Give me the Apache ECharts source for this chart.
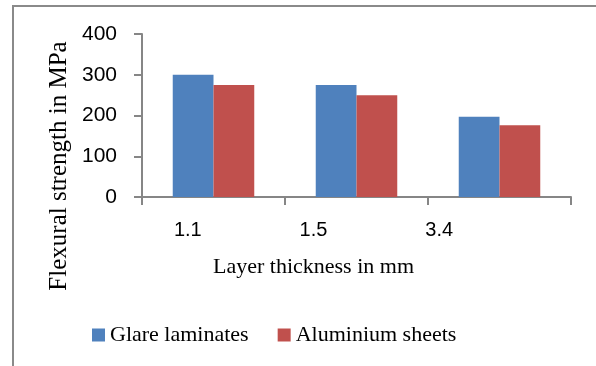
<!DOCTYPE html>
<html>
<head>
<meta charset="utf-8">
<script src="https://cdn.jsdelivr.net/npm/echarts@6/dist/echarts.min.js"></script>
<style>
  html, body { margin: 0; padding: 0; background: #fff; }
  #chart { width: 596px; height: 366px; }
</style>
</head>
<body>
<div id="chart"></div>
<script>
// Layer thickness categories (mm)
const thickness = ['1.1', '1.5', '3.4'];
// Flexural strength values (MPa)
const glareLaminates = [300, 275, 197];
const aluminiumSheets = [275, 250, 176];
// Y axis range
const yMin = 0, yMax = 400, yStep = 100;

const serif = '"Liberation Serif", "Times New Roman", serif';
const sans = '"Liberation Sans", Arial, sans-serif';
const axisGrey = '#868686';

const chart = echarts.init(document.getElementById('chart'), null, { renderer: 'canvas' });

chart.setOption({
  animation: false,
  backgroundColor: '#fff',
  graphic: [{
    type: 'rect',
    shape: { x: 13, y: 6, width: 600, height: 380 },
    style: { fill: 'none', stroke: '#8a8a8a', lineWidth: 2 },
    silent: true
  }],
  legend: {
    left: 92,
    top: 324,
    padding: 0,
    itemWidth: 13,
    itemHeight: 13,
    itemGap: 29,
    icon: 'rect',
    textStyle: { fontFamily: serif, fontSize: 22, color: '#000' },
    data: ['Glare laminates', 'Aluminium sheets']
  },
  grid: [
    { left: 142, right: 25, top: 34, bottom: 169, outerBoundsMode: 'none', containLabel: false },
    // caption grid: category captions, x title and y title
    { left: 125, width: 377, top: 135, bottom: 169, outerBoundsMode: 'none', containLabel: false }
  ],
  xAxis: [{
    type: 'category',
    gridIndex: 0,
    data: thickness,
    axisLine: { lineStyle: { color: axisGrey, width: 2 } },
    axisTick: { show: true, length: 8, lineStyle: { color: axisGrey, width: 2 } },
    axisLabel: { show: false }
  }, {
    type: 'category',
    gridIndex: 1,
    data: thickness,
    axisLine: { show: false },
    axisTick: { show: false },
    axisLabel: { margin: 23, fontFamily: sans, fontSize: 20, color: '#000' },
    name: 'Layer thickness in mm',
    nameLocation: 'middle',
    nameGap: 59,
    nameTextStyle: { fontFamily: serif, fontSize: 22, color: '#000' }
  }],
  yAxis: [{
    type: 'value',
    gridIndex: 0,
    min: yMin,
    max: yMax,
    interval: yStep,
    axisLine: { show: true, lineStyle: { color: axisGrey, width: 2 } },
    axisTick: { show: true, length: 8, lineStyle: { color: axisGrey, width: 2 } },
    splitLine: { show: false },
    axisLabel: { margin: 25, fontFamily: sans, fontSize: 21, color: '#000' }
  }, {
    type: 'value',
    gridIndex: 1,
    min: yMin,
    max: yMax,
    axisLine: { show: false },
    axisTick: { show: false },
    axisLabel: { show: false },
    splitLine: { show: false },
    name: 'Flexural strength in MPa',
    nameLocation: 'middle',
    nameGap: 53,
    nameTextStyle: { fontFamily: serif, fontSize: 25, color: '#000' }
  }],
  series: [{
    name: 'Glare laminates',
    type: 'bar',
    xAxisIndex: 0,
    yAxisIndex: 0,
    data: glareLaminates,
    barGap: '0%',
    barCategoryGap: '43%',
    itemStyle: { color: '#4F81BD' }
  }, {
    name: 'Aluminium sheets',
    type: 'bar',
    xAxisIndex: 0,
    yAxisIndex: 0,
    data: aluminiumSheets,
    barGap: '0%',
    barCategoryGap: '43%',
    itemStyle: { color: '#C0504D' }
  }]
});
</script>
</body>
</html>
